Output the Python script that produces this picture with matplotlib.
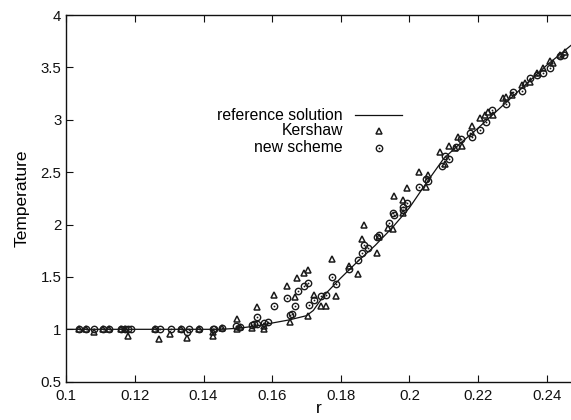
import matplotlib
matplotlib.use("Agg")
import matplotlib.pyplot as plt
import numpy as np

plt.rcParams['font.family'] = ['Liberation Sans', 'DejaVu Sans']

# reference solution
r_ref = [0.100, 0.145, 0.150, 0.155, 0.160, 0.165, 0.170, 0.172, 0.175, 0.180,
         0.185, 0.190, 0.195, 0.200, 0.205, 0.210, 0.215, 0.220, 0.225, 0.230,
         0.235, 0.240, 0.2471]
T_ref = [1.0, 1.0, 1.01, 1.03, 1.06, 1.09, 1.13, 1.18, 1.32, 1.49,
         1.65, 1.80, 1.97, 2.16, 2.40, 2.63, 2.78, 2.92, 3.07, 3.22,
         3.37, 3.52, 3.71]

# Kershaw
r_k = [0.1036, 0.1058, 0.1082, 0.1106, 0.1125, 0.1159, 0.1172, 0.1181, 0.1259, 0.1269,
       0.1303, 0.1335, 0.1353, 0.1388, 0.1429, 0.1429, 0.1455, 0.1497, 0.1497, 0.1507,
       0.1541, 0.1555, 0.1576, 0.1576, 0.1604, 0.1644, 0.1652, 0.1667, 0.1673, 0.1693,
       0.1705, 0.1705, 0.1722, 0.1742, 0.1756, 0.1773, 0.1785, 0.1824, 0.1851, 0.1863,
       0.1869, 0.1905, 0.1911, 0.1938, 0.1953, 0.1955, 0.1982, 0.1982, 0.1994, 0.2029,
       0.2048, 0.2055, 0.2089, 0.2104, 0.2115, 0.2133, 0.2142, 0.2152, 0.2181, 0.2205,
       0.2220, 0.2230, 0.2244, 0.2273, 0.2281, 0.2298, 0.2327, 0.2336, 0.2351, 0.2372,
       0.2388, 0.2411, 0.2419, 0.2438, 0.2453]
T_k = [1.0, 1.0, 0.97, 1.0, 1.0, 1.0, 1.0, 0.936, 1.0, 0.905,
       0.96, 1.0, 0.914, 1.0, 0.936, 0.97, 1.01, 1.095, 1.0, 1.02,
       1.01, 1.216, 1.0, 1.03, 1.327, 1.41, 1.07, 1.305, 1.49, 1.54,
       1.566, 1.127, 1.327, 1.22, 1.22, 1.668, 1.32, 1.607, 1.525, 1.86,
       1.995, 1.725, 1.878, 1.964, 1.954, 2.275, 2.234, 2.107, 2.345, 2.504,
       2.36, 2.47, 2.689, 2.577, 2.749, 2.727, 2.838, 2.749, 2.94, 3.013,
       3.045, 3.077, 3.045, 3.204, 3.22, 3.236, 3.331, 3.347, 3.363, 3.443,
       3.49, 3.563, 3.544, 3.617, 3.649]

# new scheme
r_n = [0.1036, 0.1058, 0.1082, 0.1106, 0.1125, 0.1159, 0.1172, 0.1180, 0.1188, 0.1259,
       0.1272, 0.1306, 0.1335, 0.1351, 0.1358, 0.1388, 0.1427, 0.1431, 0.1455, 0.1494,
       0.1507, 0.1541, 0.1546, 0.1555, 0.1555, 0.1576, 0.1589, 0.1604, 0.1644, 0.1652,
       0.1659, 0.1667, 0.1675, 0.1694, 0.1705, 0.1708, 0.1722, 0.1742, 0.1756, 0.1773,
       0.1785, 0.1824, 0.1851, 0.1863, 0.1869, 0.1880, 0.1905, 0.1911, 0.1941, 0.1953,
       0.1955, 0.1980, 0.1982, 0.1992, 0.2029, 0.2048, 0.2055, 0.2094, 0.2105, 0.2115,
       0.2137, 0.2150, 0.2176, 0.2181, 0.2205, 0.2223, 0.2242, 0.2281, 0.2302, 0.2327,
       0.2351, 0.2372, 0.2388, 0.2411, 0.2438, 0.2450]
T_n = [1.0, 1.0, 1.0, 1.0, 1.0, 1.0, 1.0, 1.0, 1.0, 1.0,
       1.0, 1.0, 1.0, 0.97, 1.0, 1.0, 1.0, 1.0, 1.01, 1.03,
       1.02, 1.04, 1.05, 1.12, 1.05, 1.06, 1.07, 1.22, 1.30, 1.14,
       1.15, 1.22, 1.365, 1.416, 1.44, 1.232, 1.28, 1.318, 1.327, 1.496,
       1.432, 1.572, 1.661, 1.725, 1.804, 1.773, 1.878, 1.9, 2.017, 2.107,
       2.091, 2.17, 2.138, 2.208, 2.355, 2.431, 2.42, 2.561, 2.654, 2.622,
       2.742, 2.813, 2.870, 2.832, 2.902, 2.981, 3.093, 3.15, 3.267, 3.277,
       3.395, 3.427, 3.449, 3.49, 3.608, 3.617]

x_ticks = [0.1, 0.12, 0.14, 0.16, 0.18, 0.2, 0.22, 0.24]
y_ticks = [0.5, 1, 1.5, 2, 2.5, 3, 3.5, 4]
labels = ["reference solution", "Kershaw", "new scheme"]

fig = plt.figure(figsize=(5.71, 4.2), dpi=100)
ax = fig.add_axes([66.3 / 571, 38.3 / 420, 1 - 66.3 / 571, 366.7 / 420])

mk = '#1a1a1a'
tri = dict(linestyle='none', marker='^', ms=4.4, mfc='none', mec=mk, mew=1.1, zorder=3)
cir = dict(linestyle='none', marker='o', ms=4.6, mfc='none', mec=mk, mew=1.0, zorder=3)
dot = dict(linestyle='none', marker='o', ms=1.3, mfc=mk, mec=mk, mew=0, zorder=3)

ax.plot(r_ref, T_ref, '-', color='#111111', lw=0.9, zorder=2)
ax.plot(r_k, T_k, **tri)
ax.plot(r_n, T_n, **cir)
ax.plot(r_n, T_n, **dot)

ax.set_xlim(0.1, 0.2471)
ax.set_ylim(0.5, 4)
ax.set_xticks(x_ticks)
ax.set_xticklabels(["%g" % v for v in x_ticks])
ax.set_yticks(y_ticks)
ax.set_yticklabels(["%g" % v for v in y_ticks])
ax.tick_params(direction='in', length=5, width=0.8, labelsize=10.8, top=True, right=False,
               colors='#111111')
ax.tick_params(axis='x', pad=5)
ax.spines['right'].set_visible(False)
for s in ['left', 'top', 'bottom']:
    ax.spines[s].set_linewidth(1.0)
    ax.spines[s].set_color('#111111')

ax.set_xlabel("r", fontsize=12.5, labelpad=-1)
ax.set_ylabel("Temperature", fontsize=12.5, labelpad=8)

# legend (manual, right-aligned labels)
ys = [0.727, 0.684, 0.638]
tx = 0.548
for lab, yy in zip(labels, ys):
    ax.text(tx, yy, lab, transform=ax.transAxes, ha='right', va='center', fontsize=11.3)
ax.plot([0.572, 0.665], [ys[0], ys[0]], transform=ax.transAxes, color='#111111', lw=0.9)
ax.plot([0.619], [ys[1]], transform=ax.transAxes, **tri)
ax.plot([0.619], [ys[2]], transform=ax.transAxes, **cir)
ax.plot([0.619], [ys[2]], transform=ax.transAxes, **dot)

fig.savefig("out.png", dpi=100)
